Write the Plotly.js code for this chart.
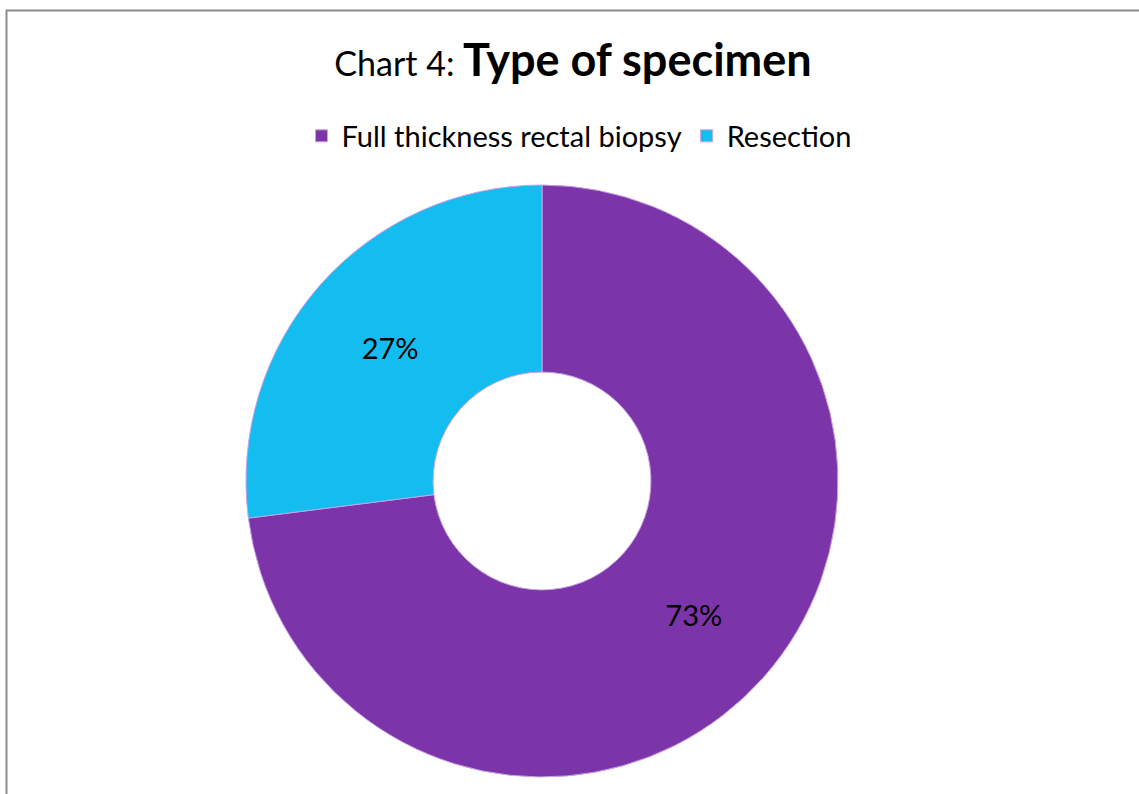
<!DOCTYPE html>
<html>
<head>
<meta charset="utf-8">
<script src="https://cdn.plot.ly/plotly-3.0.1.min.js"></script>
<style>
  html, body { margin: 0; padding: 0; background: #ffffff; }
  #chart { width: 1139px; height: 794px; }
</style>
</head>
<body>
<div id="chart"></div>
<script>
// Specimen types and their share of cases
const categories = ["Full thickness rectal biopsy", "Resection"];
const values = [73, 27];
const sliceColors = ["#7b35a8", "#13bdf0"];

const W = 1139, H = 794;
const margin = { l: 246, r: 301, t: 185, b: 17, pad: 0 };
// convert pixel positions to paper coordinates for the frame
const px = x => (x - margin.l) / (W - margin.l - margin.r);
const py = y => 1 - (y - margin.t) / (H - margin.t - margin.b);

const FONT = "Lato, 'Open Sans', sans-serif";

const trace = {
  type: "pie",
  labels: categories,
  values: values,
  hole: 0.368,
  sort: false,
  direction: "clockwise",
  rotation: 0,
  marker: { colors: sliceColors, line: { color: "#c9a2e8", width: 1 } },
  textinfo: "percent",
  texttemplate: "%{percent:.0%}",
  textposition: "inside",
  insidetextorientation: "horizontal",
  textfont: { family: FONT, size: 29, color: "#000000" },
  hoverinfo: "label+percent"
};

const layout = {
  width: W,
  height: H,
  margin: margin,
  paper_bgcolor: "#ffffff",
  font: { family: FONT, color: "#000000" },
  title: {
    text: "Chart 4: <span style='font-size:45px'><b>Type of specimen</b></span>",
    font: { family: FONT, size: 34, color: "#000000" },
    x: 573 / W,
    xanchor: "center",
    xref: "container",
    y: 1 - 64 / H,
    yanchor: "middle",
    yref: "container"
  },
  showlegend: true,
  legend: {
    orientation: "h",
    xref: "container",
    yref: "container",
    x: 579 / W,
    xanchor: "center",
    y: 1 - 136 / H,
    yanchor: "middle",
    font: { family: FONT, size: 29, color: "#000000" },
    itemwidth: 30,
    tracegroupgap: 0
  },
  shapes: [
    {
      type: "rect",
      xref: "paper",
      yref: "paper",
      x0: px(6.5),
      x1: px(1160),
      y0: py(810),
      y1: py(10.5),
      line: { color: "#8c8c8c", width: 2 },
      fillcolor: "rgba(0,0,0,0)",
      layer: "below"
    }
  ]
};

Plotly.newPlot("chart", [trace], layout, { displayModeBar: false, staticPlot: true });
</script>
</body>
</html>
